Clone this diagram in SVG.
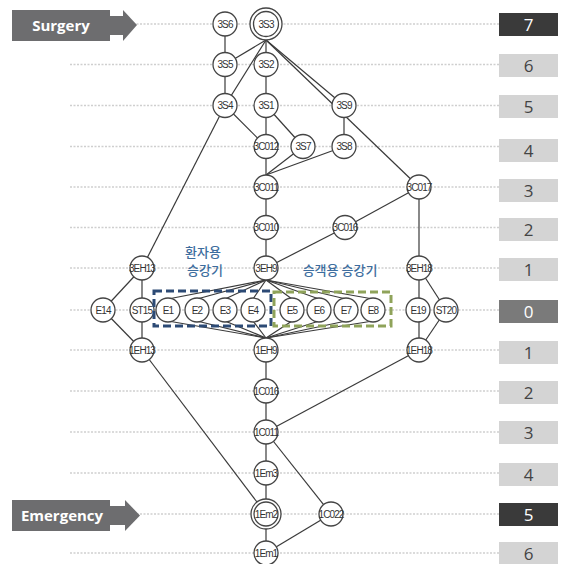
<svg xmlns="http://www.w3.org/2000/svg" width="562" height="564" viewBox="0 0 562 564">
<style>
.grid{stroke:#cfcfcf;stroke-width:1.3;stroke-dasharray:2 1.5}
.lvl{fill:#d4d4d4}
.lvd{fill:#3a3a3a}
.lvm{fill:#7a7a7a}
.lt{font-family:"Open Sans","Liberation Sans",sans-serif;font-size:17px;text-anchor:middle;fill:#444}
.lw{fill:#fff}
.e{stroke:#3a3a3a;stroke-width:1.2;fill:none}
.n circle{fill:#fff;stroke:#444;stroke-width:1.3}
.n text{font-family:"Liberation Sans",Arial,sans-serif;font-size:10px;letter-spacing:-0.9px;text-anchor:middle;fill:#333}
.arr{fill:#6d6d6f}
.at{font-family:"Open Sans","Liberation Sans",sans-serif;font-size:15px;font-weight:bold;fill:#fff;text-anchor:middle}
.kr{font-family:"Noto Sans CJK KR",sans-serif;font-size:13px;fill:#3d6d9e;text-anchor:middle;font-weight:500}
</style>
<rect width="562" height="564" fill="#fff"/>
<g id="grid">
<line class="grid" x1="70" y1="24" x2="499" y2="24"/>
<line class="grid" x1="70" y1="64.5" x2="499" y2="64.5"/>
<line class="grid" x1="70" y1="105.5" x2="499" y2="105.5"/>
<line class="grid" x1="70" y1="146.5" x2="499" y2="146.5"/>
<line class="grid" x1="70" y1="187" x2="499" y2="187"/>
<line class="grid" x1="70" y1="227.5" x2="499" y2="227.5"/>
<line class="grid" x1="70" y1="268" x2="499" y2="268"/>
<line class="grid" x1="70" y1="310" x2="499" y2="310"/>
<line class="grid" x1="70" y1="350" x2="499" y2="350"/>
<line class="grid" x1="70" y1="391" x2="499" y2="391"/>
<line class="grid" x1="70" y1="432" x2="499" y2="432"/>
<line class="grid" x1="70" y1="473" x2="499" y2="473"/>
<line class="grid" x1="70" y1="514" x2="499" y2="514"/>
<line class="grid" x1="70" y1="553" x2="499" y2="553"/>
</g>
<g id="levels">
<rect class="lvd" x="499" y="13" width="59" height="23"/><text class="lt lw" x="528.5" y="31">7</text>
<rect class="lvl" x="499" y="54" width="59" height="23"/><text class="lt" x="528.5" y="72">6</text>
<rect class="lvl" x="499" y="95" width="59" height="23"/><text class="lt" x="528.5" y="113">5</text>
<rect class="lvl" x="499" y="139" width="59" height="23"/><text class="lt" x="528.5" y="157">4</text>
<rect class="lvl" x="499" y="179" width="59" height="23"/><text class="lt" x="528.5" y="197">3</text>
<rect class="lvl" x="499" y="218" width="59" height="23"/><text class="lt" x="528.5" y="236">2</text>
<rect class="lvl" x="499" y="258" width="59" height="23"/><text class="lt" x="528.5" y="276">1</text>
<rect class="lvm" x="499" y="300" width="59" height="23"/><text class="lt lw" x="528.5" y="318">0</text>
<rect class="lvl" x="499" y="341" width="59" height="23"/><text class="lt" x="528.5" y="359">1</text>
<rect class="lvl" x="499" y="381" width="59" height="23"/><text class="lt" x="528.5" y="399">2</text>
<rect class="lvl" x="499" y="421" width="59" height="23"/><text class="lt" x="528.5" y="439">3</text>
<rect class="lvl" x="499" y="463" width="59" height="23"/><text class="lt" x="528.5" y="481">4</text>
<rect class="lvd" x="499" y="503" width="59" height="23"/><text class="lt lw" x="528.5" y="521">5</text>
<rect class="lvl" x="499" y="542" width="59" height="23"/><text class="lt" x="528.5" y="560">6</text>
</g>
<g id="surgery">
<rect class="arr" x="12" y="10" width="98" height="31"/>
<rect class="arr" x="109" y="16" width="15" height="19"/>
<polygon class="arr" points="123,10 137,25 123,41"/>
<text class="at" x="61" y="31">Surgery</text>
</g>
<g id="emergency">
<rect class="arr" x="12" y="500" width="98" height="31"/>
<rect class="arr" x="109" y="506" width="17" height="19"/>
<polygon class="arr" points="125,500 140,515.5 125,531"/>
<text class="at" x="62" y="521">Emergency</text>
</g>
<g id="connectors">
<line class="e" x1="225" y1="24" x2="225" y2="105.5"/>
<line class="e" x1="266" y1="40" x2="225" y2="64.5"/>
<line class="e" x1="266" y1="40" x2="225" y2="105.5"/>
<line class="e" x1="266" y1="40" x2="266" y2="64.5"/>
<line class="e" x1="266" y1="40" x2="344" y2="105.5"/>
<line class="e" x1="266" y1="40" x2="419" y2="187"/>
<line class="e" x1="266" y1="64.5" x2="266" y2="227.5"/>
<line class="e" x1="225" y1="105.5" x2="266" y2="146.5"/>
<line class="e" x1="266" y1="105.5" x2="303" y2="146.5"/>
<line class="e" x1="225" y1="105.5" x2="142" y2="268"/>
<line class="e" x1="344" y1="105.5" x2="344" y2="146.5"/>
<line class="e" x1="303" y1="146.5" x2="266" y2="175"/>
<line class="e" x1="344" y1="146.5" x2="266" y2="175"/>
<line class="e" x1="419" y1="187" x2="345" y2="227.5"/>
<line class="e" x1="419" y1="187" x2="419" y2="268"/>
<line class="e" x1="266" y1="227.5" x2="266" y2="268"/>
<line class="e" x1="345" y1="227.5" x2="266" y2="268"/>
<line class="e" x1="266" y1="280" x2="168" y2="299"/>
<line class="e" x1="266" y1="280" x2="197" y2="299"/>
<line class="e" x1="266" y1="280" x2="225" y2="299"/>
<line class="e" x1="266" y1="280" x2="253" y2="299"/>
<line class="e" x1="266" y1="280" x2="292" y2="299"/>
<line class="e" x1="266" y1="280" x2="319" y2="299"/>
<line class="e" x1="266" y1="280" x2="346" y2="299"/>
<line class="e" x1="266" y1="280" x2="373" y2="299"/>
<line class="e" x1="266" y1="338" x2="168" y2="321"/>
<line class="e" x1="266" y1="338" x2="197" y2="321"/>
<line class="e" x1="266" y1="338" x2="225" y2="321"/>
<line class="e" x1="266" y1="338" x2="253" y2="321"/>
<line class="e" x1="266" y1="338" x2="292" y2="321"/>
<line class="e" x1="266" y1="338" x2="319" y2="321"/>
<line class="e" x1="266" y1="338" x2="346" y2="321"/>
<line class="e" x1="266" y1="338" x2="373" y2="321"/>
<line class="e" x1="142" y1="268" x2="103" y2="310"/>
<line class="e" x1="142" y1="268" x2="142" y2="350"/>
<line class="e" x1="103" y1="310" x2="142" y2="350"/>
<line class="e" x1="419" y1="268" x2="419" y2="350"/>
<line class="e" x1="419" y1="268" x2="446" y2="310"/>
<line class="e" x1="446" y1="310" x2="419" y2="350"/>
<line class="e" x1="142" y1="350" x2="266" y2="514"/>
<line class="e" x1="419" y1="350" x2="266" y2="432"/>
<line class="e" x1="266" y1="350" x2="266" y2="553"/>
<line class="e" x1="266" y1="432" x2="331" y2="514"/>
<line class="e" x1="331" y1="514" x2="266" y2="553"/>
</g>
<g id="n3S6" class="n"><circle cx="225" cy="24" r="12"/><text x="225" y="27.5">3S6</text></g>
<g id="n3S3" class="n"><circle cx="266" cy="24" r="16"/><circle cx="266" cy="24" r="12.5"/><text x="266" y="27.5">3S3</text></g>
<g id="n3S5" class="n"><circle cx="225" cy="64.5" r="12"/><text x="225" y="68">3S5</text></g>
<g id="n3S2" class="n"><circle cx="266" cy="64.5" r="12"/><text x="266" y="68">3S2</text></g>
<g id="n3S4" class="n"><circle cx="225" cy="105.5" r="12"/><text x="225" y="109">3S4</text></g>
<g id="n3S1" class="n"><circle cx="266" cy="105.5" r="12"/><text x="266" y="109">3S1</text></g>
<g id="n3S9" class="n"><circle cx="344" cy="105.5" r="12"/><text x="344" y="109">3S9</text></g>
<g id="n3C012" class="n"><circle cx="266" cy="146.5" r="12"/><text x="266" y="150">3C012</text></g>
<g id="n3S7" class="n"><circle cx="303" cy="146.5" r="12"/><text x="303" y="150">3S7</text></g>
<g id="n3S8" class="n"><circle cx="344" cy="146.5" r="12"/><text x="344" y="150">3S8</text></g>
<g id="n3C011" class="n"><circle cx="266" cy="187" r="12"/><text x="266" y="190.5">3C011</text></g>
<g id="n3C017" class="n"><circle cx="419" cy="187" r="12"/><text x="419" y="190.5">3C017</text></g>
<g id="n3C010" class="n"><circle cx="266" cy="227.5" r="12"/><text x="266" y="231">3C010</text></g>
<g id="n3C016" class="n"><circle cx="345" cy="227.5" r="12"/><text x="345" y="231">3C016</text></g>
<g id="n3EH13" class="n"><circle cx="142" cy="268" r="12"/><text x="142" y="271.5">3EH13</text></g>
<g id="n3EH9" class="n"><circle cx="266" cy="268" r="12"/><text x="266" y="271.5">3EH9</text></g>
<g id="n3EH18" class="n"><circle cx="419" cy="268" r="12"/><text x="419" y="271.5">3EH18</text></g>
<g id="nE14" class="n"><circle cx="103" cy="310" r="12"/><text x="103" y="313.5">E14</text></g>
<g id="nST15" class="n"><circle cx="142" cy="310" r="12"/><text x="142" y="313.5">ST15</text></g>
<g id="nE1" class="n"><circle cx="168" cy="310" r="12"/><text x="168" y="313.5">E1</text></g>
<g id="nE2" class="n"><circle cx="197" cy="310" r="12"/><text x="197" y="313.5">E2</text></g>
<g id="nE3" class="n"><circle cx="225" cy="310" r="12"/><text x="225" y="313.5">E3</text></g>
<g id="nE4" class="n"><circle cx="253" cy="310" r="12"/><text x="253" y="313.5">E4</text></g>
<g id="nE5" class="n"><circle cx="292" cy="310" r="12"/><text x="292" y="313.5">E5</text></g>
<g id="nE6" class="n"><circle cx="319" cy="310" r="12"/><text x="319" y="313.5">E6</text></g>
<g id="nE7" class="n"><circle cx="346" cy="310" r="12"/><text x="346" y="313.5">E7</text></g>
<g id="nE8" class="n"><circle cx="373" cy="310" r="12"/><text x="373" y="313.5">E8</text></g>
<g id="nE19" class="n"><circle cx="418" cy="310" r="12"/><text x="418" y="313.5">E19</text></g>
<g id="nST20" class="n"><circle cx="446" cy="310" r="12"/><text x="446" y="313.5">ST20</text></g>
<g id="n1EH13" class="n"><circle cx="142" cy="350" r="12"/><text x="142" y="353.5">1EH13</text></g>
<g id="n1EH9" class="n"><circle cx="266" cy="350" r="12"/><text x="266" y="353.5">1EH9</text></g>
<g id="n1EH18" class="n"><circle cx="419" cy="350" r="12"/><text x="419" y="353.5">1EH18</text></g>
<g id="n1C016" class="n"><circle cx="266" cy="391" r="12"/><text x="266" y="394.5">1C016</text></g>
<g id="n1C011" class="n"><circle cx="266" cy="432" r="12"/><text x="266" y="435.5">1C011</text></g>
<g id="n1Em3" class="n"><circle cx="266" cy="473" r="12"/><text x="266" y="476.5">1Em3</text></g>
<g id="n1Em2" class="n"><circle cx="266" cy="514" r="15"/><circle cx="266" cy="514" r="12"/><text x="266" y="517.5">1Em2</text></g>
<g id="n1C022" class="n"><circle cx="331" cy="514" r="12"/><text x="331" y="517.5">1C022</text></g>
<g id="n1Em1" class="n"><circle cx="266" cy="553" r="12"/><text x="266" y="556.5">1Em1</text></g>
<g id="groups">
<rect x="154" y="291" width="117" height="35" fill="none" stroke="#2c4a75" stroke-width="3" stroke-dasharray="8 4"/>
<rect x="274" y="292" width="117" height="34" fill="none" stroke="#8fa35a" stroke-width="3" stroke-dasharray="8 4"/>
<text class="kr" x="203" y="257">환자용</text>
<text class="kr" x="205" y="275">승강기</text>
<text class="kr" x="340" y="275">승객용 승강기</text>
</g>
</svg>
